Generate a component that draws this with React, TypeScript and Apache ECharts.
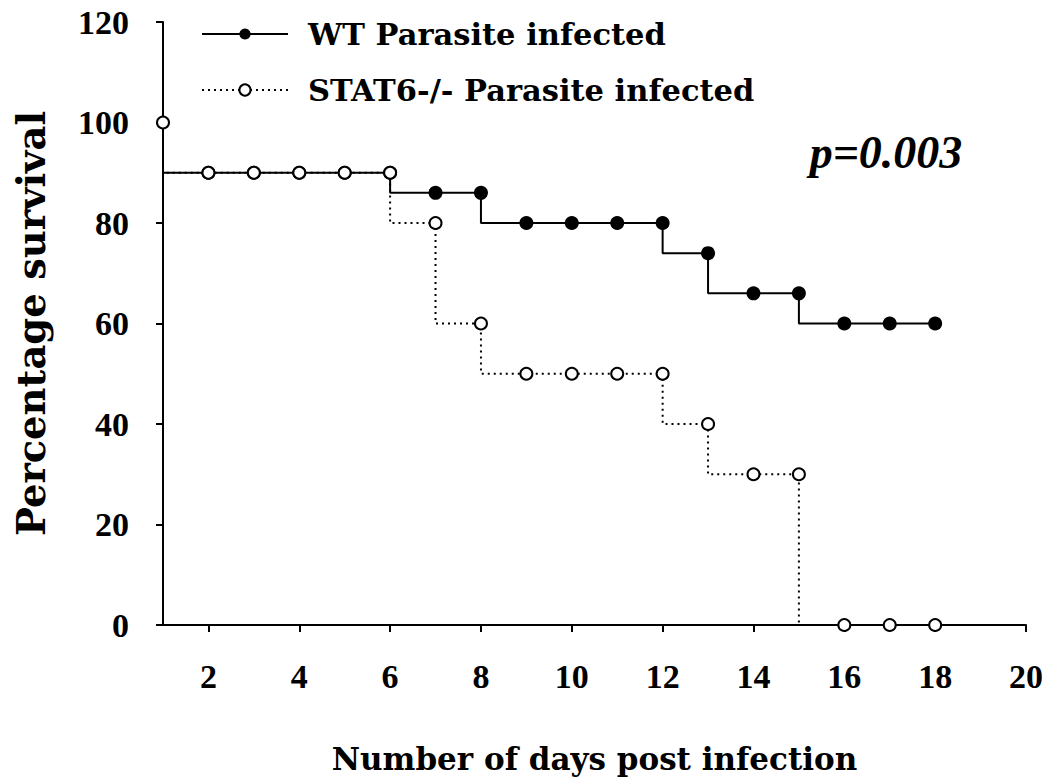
import React, { useEffect, useRef } from "react";
import * as echarts from "echarts";

const days = [1, 2, 3, 4, 5, 6, 7, 8, 9, 10, 11, 12, 13, 14, 15, 16, 17, 18];
const wtSurvival = [90, 90, 90, 90, 90, 90, 86, 86, 80, 80, 80, 80, 74, 66, 66, 60, 60, 60];
const stat6Survival = [100, 90, 90, 90, 90, 90, 80, 60, 50, 50, 50, 50, 40, 30, 30, 0, 0, 0];
const xTicks = [2, 4, 6, 8, 10, 12, 14, 16, 18, 20];
const seriesNames = ["WT Parasite infected", "STAT6-/- Parasite infected"];
const pValueText = "p=0.003";

const textFont = "DejaVu Serif";
const numFont = "Liberation Serif";

export default function App() {
  const ref = useRef<HTMLDivElement>(null);
  useEffect(() => {
    if (!ref.current) return;
    const chart = echarts.init(ref.current, undefined, { renderer: "svg" });
    const wtData = days.map((d, i) =>
      i === 0 ? { value: [d, wtSurvival[i]], symbol: "none" } : { value: [d, wtSurvival[i]] }
    );
    const stData = days.map((d, i) => [d, stat6Survival[i]]);
    chart.setOption({
      animation: false,
      backgroundColor: "#fff",
      grid: { left: 163, right: 24, top: 22, bottom: 158, containLabel: false },
      legend: {
        orient: "vertical",
        left: 196,
        top: 11,
        itemWidth: 86,
        itemHeight: 14,
        itemGap: 20,
        data: seriesNames,
        textStyle: {
          fontFamily: textFont,
          fontWeight: "bold",
          fontSize: 30.5,
          lineHeight: 36,
          color: "#000",
          padding: [0, 0, 0, 15],
        },
      },
      graphic: [
        {
          type: "text",
          style: {
            x: 886,
            y: 152,
            text: pValueText,
            textAlign: "center",
            textVerticalAlign: "middle",
            fontFamily: numFont,
            fontWeight: "bold",
            fontStyle: "italic",
            fontSize: 46,
            fill: "#000",
          },
        },
      ],
      xAxis: {
        type: "value",
        min: 1,
        max: 20,
        name: "Number of days post infection",
        nameLocation: "middle",
        nameGap: 118,
        nameTextStyle: { fontFamily: textFont, fontWeight: "bold", fontSize: 31, color: "#000" },
        splitLine: { show: false },
        axisLine: { show: true, onZero: false, lineStyle: { color: "#000", width: 2 } },
        axisTick: { show: true, length: 7, lineStyle: { color: "#000", width: 2 }, customValues: xTicks },
        axisLabel: {
          customValues: xTicks,
          margin: 34,
          fontFamily: numFont,
          fontWeight: "bold",
          fontSize: 34,
          color: "#000",
        },
      },
      yAxis: {
        type: "value",
        min: 0,
        max: 120,
        interval: 20,
        name: "Percentage survival",
        nameLocation: "middle",
        nameGap: 112,
        nameTextStyle: { fontFamily: textFont, fontWeight: "bold", fontSize: 38.5, color: "#000" },
        splitLine: { show: false },
        axisLine: { show: true, lineStyle: { color: "#000", width: 2 } },
        axisTick: { show: true, length: 7, lineStyle: { color: "#000", width: 2 } },
        axisLabel: {
          margin: 34,
          fontFamily: numFont,
          fontWeight: "bold",
          fontSize: 34,
          color: "#000",
        },
      },
      series: [
        {
          name: seriesNames[0],
          type: "line",
          step: "start",
          data: wtData,
          symbol: "circle",
          symbolSize: 14,
          clip: false,
          itemStyle: { color: "#000" },
          lineStyle: { color: "#000", width: 2 },
          z: 2,
        },
        {
          name: seriesNames[1],
          type: "line",
          step: "start",
          data: stData,
          symbol: "emptyCircle",
          symbolSize: 12,
          clip: false,
          itemStyle: { color: "#000", borderWidth: 2, borderColor: "#000" },
          lineStyle: { color: "#000", width: 2, type: [2, 4] },
          z: 3,
        },
      ],
    });
    return () => chart.dispose();
  }, []);
  return (
    <div
      ref={ref}
      style={{ position: "fixed", left: 0, top: 0, width: 1050, height: 783, background: "#fff" }}
    />
  );
}
